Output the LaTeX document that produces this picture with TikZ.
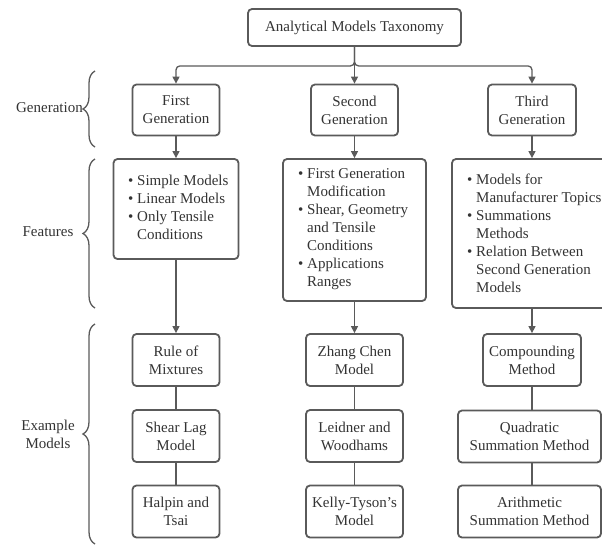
\documentclass[tikz,border=0pt]{standalone}
\usepackage{fontspec}
\setmainfont{Liberation Serif}
\usetikzlibrary{arrows.meta,decorations.pathreplacing}
\definecolor{ln}{HTML}{5A5A5A}
\definecolor{tx}{HTML}{333333}
\newcommand{\myb}{\makebox[9pt][l]{•}}
\newcommand{\myi}{\hspace*{9pt}}
\begin{document}
\begin{tikzpicture}[x=1pt,y=-1pt,
  font=\fontsize{15}{18}\selectfont, text=tx,
  box/.style={draw=ln, line width=1.8pt, rounded corners=4pt, fill=white,
    inner sep=0pt, align=center},
  conn/.style={draw=ln, line width=1.3pt},
  arr/.style={conn, -{Triangle[length=7pt,width=7pt]}},
  brc/.style={draw=ln, line width=1.3pt, decorate,
    decoration={brace, amplitude=12pt}},
  lbl/.style={inner sep=0pt, align=center},
  ftext/.style={inner sep=0pt, align=left, anchor=west}]
\useasboundingbox (0,0) rectangle (602,546);
\clip (0,0) rectangle (602,546);

% top
\node[box, minimum width=213pt, minimum height=37pt] (top) at (354.5,27.5) {Analytical Models Taxonomy};

% generations
\node[box, minimum width=87pt, minimum height=51pt] (g1) at (176,110) {First\\Generation};
\node[box, minimum width=87pt, minimum height=51pt] (g2) at (354.5,110) {Second\\Generation};
\node[box, minimum width=88pt, minimum height=51pt] (g3) at (532,110) {Third\\Generation};

% features
\node[box, minimum width=125pt, minimum height=100pt] (f1) at (176,209) {};
\node[box, minimum width=143pt, minimum height=142pt] (f2) at (354.5,230) {};
\node[box, minimum width=160pt, minimum height=149pt] (f3) at (532,233.5) {};
\node[ftext] (f1t) at (128,207.5) {\myb Simple Models\\\myb Linear Models\\\myb Only Tensile\\\myi Conditions};
\node[ftext] (f2t) at (298,229) {\myb First Generation\\\myi Modification\\\myb Shear, Geometry\\\myi and Tensile\\\myi Conditions\\\myb Applications\\\myi Ranges};
\node[ftext] (f3t) at (467,233) {\myb Models for\\\myi Manufacturer Topics\\\myb Summations\\\myi Methods\\\myb Relation Between\\\myi Second Generation\\\myi Models};

% example models
\node[box, minimum width=87pt, minimum height=52pt] (a1) at (176,360) {Rule of\\Mixtures};
\node[box, minimum width=87pt, minimum height=52pt] (a2) at (176,436) {Shear Lag\\Model};
\node[box, minimum width=87pt, minimum height=52pt] (a3) at (176,511.5) {Halpin and\\Tsai};
\node[box, minimum width=97pt, minimum height=52pt] (b1) at (354.5,360) {Zhang Chen\\Model};
\node[box, minimum width=97pt, minimum height=52pt] (b2) at (354.5,436) {Leidner and\\Woodhams};
\node[box, minimum width=97pt, minimum height=52pt] (b3) at (354.5,511.5) {Kelly-Tyson's\\Model};
\node[box, minimum width=98pt, minimum height=52pt] (c1) at (532,360) {Compounding\\Method};
\node[box, minimum width=143pt, minimum height=52pt] (c2) at (529.5,436.5) {Quadratic\\Summation Method};
\node[box, minimum width=143pt, minimum height=52pt] (c3) at (529.5,511.5) {Arithmetic\\Summation Method};

% connectors
\draw[arr, rounded corners=4pt] (top.south) -- ++(0,19) -| (g1.north);
\draw[arr, rounded corners=4pt] (top.south) -- ++(0,19) -| (g3.north);
\draw[arr] (top.south) -- (g2.north);
\draw[arr] (g1) -- (f1);
\draw[arr] (g2) -- (f2);
\draw[arr] (g3) -- (f3);
\draw[arr] (f1) -- (a1);
\draw[arr] (f2) -- (b1);
\draw[arr] (f3) -- (c1);
\draw[conn] (a1) -- (a2);
\draw[conn] (a2) -- (a3);
\draw[conn] (b1) -- (b2);
\draw[conn] (b2) -- (b3);
\draw[conn] (c1.south) -- (c1.south |- c2.north);
\draw[conn] (c1.south |- c2.south) -- (c1.south |- c3.north);

% braces and labels
\coordinate (gb1) at (95,147);
\coordinate (gb2) at (95,71);
\coordinate (fb1) at (95,308);
\coordinate (fb2) at (95,159);
\coordinate (eb1) at (95,544);
\coordinate (eb2) at (95,324);
\draw[brc] (gb1) -- (gb2);
\draw[brc] (fb1) -- (fb2);
\draw[brc] (eb1) -- (eb2);
\node[lbl, anchor=east] (lg) at (83,108) {Generation};
\node[lbl] (lf) at (48,232) {Features};
\node[lbl] (le) at (48,434) {Example\\Models};
\end{tikzpicture}
\end{document}
